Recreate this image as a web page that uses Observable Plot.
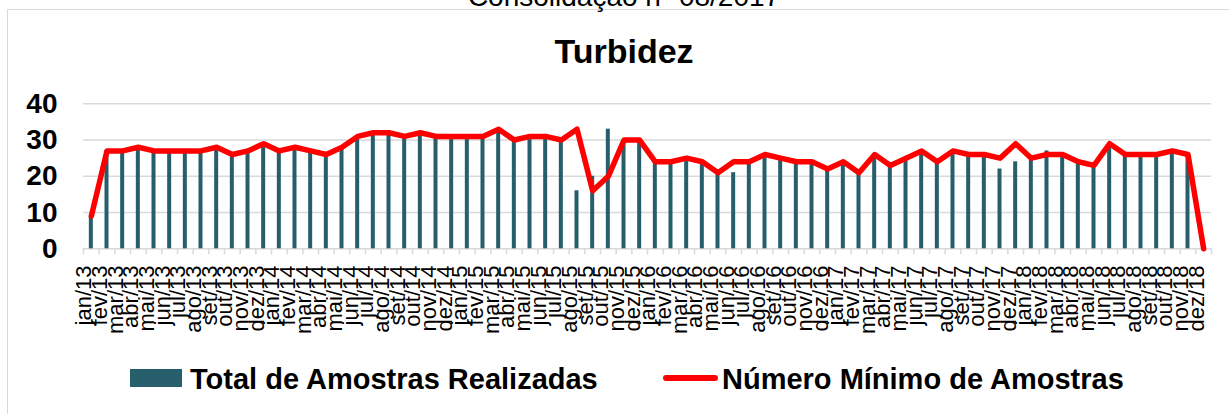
<!DOCTYPE html>
<html>
<head>
<meta charset="utf-8">
<script src="https://cdn.jsdelivr.net/npm/d3@7"></script>
<script src="https://cdn.jsdelivr.net/npm/@observablehq/plot@0.6"></script>
<style>
  html, body { margin: 0; padding: 0; background: #fff; }
  #wrap { position: relative; width: 1229px; height: 414px; overflow: hidden; font-family: "Liberation Sans", Arial, sans-serif; color: #000; }
  #box { position: absolute; left: 7px; top: 9px; width: 1260px; height: 430px; border: 1px solid #d9d9d9; box-sizing: border-box; }
  .abs { position: absolute; white-space: nowrap; line-height: 1; }
  #plot { position: absolute; left: 0; top: 0; }
</style>
</head>
<body>
<div id="wrap">
  <div id="box"></div>
  <div class="abs" id="top" style="left:0;width:1248px;text-align:center;top:-16.7px;font-size:28px;">Consolidação nº 08/2017</div>
  <div class="abs" id="title" style="left:0;width:1248px;text-align:center;top:34px;font-size:34px;font-weight:bold;">Turbidez</div>
  <div id="plot"></div>
  <div class="abs" style="left:130px;top:369px;width:52px;height:18px;background:#275E6B;"></div>
  <div class="abs" style="left:190px;top:364.5px;font-size:29px;font-weight:bold;">Total de Amostras Realizadas</div>
  <div class="abs" style="left:663px;top:375px;width:55px;height:6px;background:#ff0000;border-radius:3px;"></div>
  <div class="abs" style="left:722px;top:364.5px;font-size:29px;font-weight:bold;">Número Mínimo de Amostras</div>
</div>
<script>
const monthNames = ["jan","fev","mar","abr","mai","jun","jul","ago","set","out","nov","dez"];
const years = ["13","14","15","16","17","18"];
const months = years.flatMap(y => monthNames.map(m => m + "/" + y));

const totalRealizadas = [
  9,27,27,28,27,27,27,27,28,26,27,29,
  27,28,27,26,28,31,32,32,31,32,31,31,
  31,31,33,30,31,31,30,16,20,33,30,30,
  24,24,25,24,21,21,24,26,25,24,24,22,
  24,21,26,23,25,27,24,27,26,26,22,24,
  25,27,26,24,23,28,26,26,26,27,26,0
];
const numeroMinimo = [
  9,27,27,28,27,27,27,27,28,26,27,29,
  27,28,27,26,28,31,32,32,31,32,31,31,
  31,31,33,30,31,31,30,33,16,20,30,30,
  24,24,25,24,21,24,24,26,25,24,24,22,
  24,21,26,23,25,27,24,27,26,26,25,29,
  25,26,26,24,23,29,26,26,26,27,26,0
];
const yTicks = [0,10,20,30,40];

const data = months.map((m, i) => ({month: m, total: totalRealizadas[i], minimo: numeroMinimo[i]}));

const W = 1229, H = 345;
const mL = 83, mR = 18, mT = 103.3, mB = 96.7;
const bw = (W - mL - mR) / months.length;

const chart = Plot.plot({
  width: W,
  height: H,
  marginLeft: mL,
  marginRight: mR,
  marginTop: mT,
  marginBottom: mB,
  style: {fontFamily: "'Liberation Sans', Arial, sans-serif", background: "transparent", color: "#000", overflow: "visible"},
  x: {domain: months, padding: 0, axis: null, label: null},
  y: {domain: [0, 40], axis: null, label: null},
  marks: [
    Plot.gridY(yTicks, {stroke: "#d9d9d9", strokeOpacity: 1, strokeWidth: 1.5}),
    Plot.axisX({tickSize: 6, text: null, label: null, dx: -bw / 2, stroke: "#d9d9d9", strokeWidth: 1.5, strokeOpacity: 1}),
    Plot.axisX([months[months.length - 1]], {tickSize: 6, text: null, label: null, dx: bw / 2, stroke: "#d9d9d9", strokeWidth: 1.5, strokeOpacity: 1}),
    Plot.axisY(yTicks, {tickSize: 0, tickPadding: 26, label: null, fontSize: 28, fontWeight: "bold", fill: "#000"}),
    Plot.barY(data, {x: "month", y: "total", fill: "#275E6B", insetLeft: (bw - 4) / 2, insetRight: (bw - 4) / 2}),
    Plot.lineY(data, {x: "month", y: "minimo", stroke: "#ff0000", strokeWidth: 5.5, strokeLinejoin: "round", strokeLinecap: "round"}),
    Plot.text(months, {x: d => d, text: d => d, frameAnchor: "bottom", rotate: -90, textAnchor: "end", dy: 16.7, fontSize: 22, fill: "#000"})
  ]
});
document.getElementById("plot").appendChild(chart);
</script>
</body>
</html>
